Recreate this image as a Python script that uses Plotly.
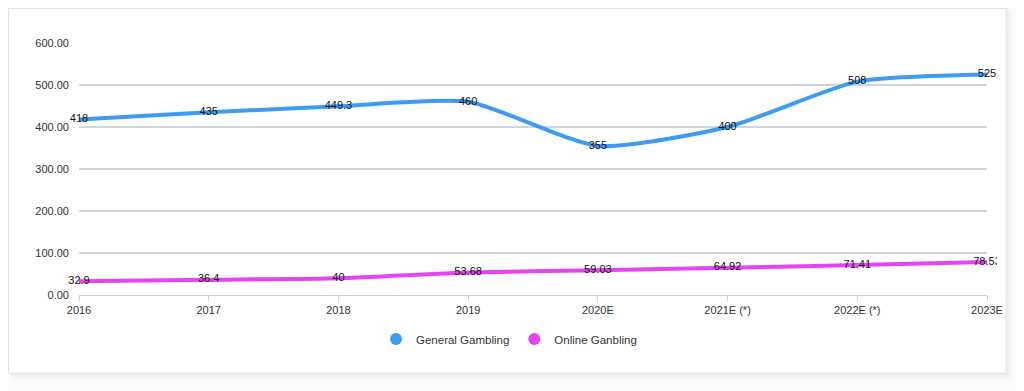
import plotly.graph_objects as go

categories = ["2016", "2017", "2018", "2019", "2020E", "2021E (*)", "2022E (*)", "2023E"]
general = [418, 435, 449.3, 460, 355, 400, 508, 525]
online = [32.9, 36.4, 40, 53.68, 59.03, 64.92, 71.41, 78.53]
y_ticks = [0, 100, 200, 300, 400, 500, 600]

BLUE = "#3c9bf4"
MAGENTA = "#e643f6"
FONT = "Liberation Sans, Arial, sans-serif"

OFF = 8  # page body margin: figure origin sits at page (8, 8)
W, H = 1024 - OFF, 391 - OFF
# plot area in page pixels
PL, PR, PT, PB = 79, 987, 43, 295
L, R, T, B = PL - OFF, PR - OFF, PT - OFF, PB - OFF


def px(x):
    return (x - PL) / (PR - PL)


def py(y):
    return (PB - y) / (PB - PT)


fig = go.Figure()

fig.add_trace(go.Scatter(
    x=categories, y=general, mode="lines+text", text=[f"{v:g}" for v in general],
    textposition="middle center", textfont=dict(size=11, color="#111", family=FONT),
    line=dict(color=BLUE, width=4, shape="spline", smoothing=0.6),
    showlegend=False, cliponaxis=False, hoverinfo="skip"))
fig.add_trace(go.Scatter(
    x=categories, y=online, mode="lines+text", text=[f"{v:g}" for v in online],
    textposition="middle center", textfont=dict(size=11, color="#111", family=FONT),
    line=dict(color=MAGENTA, width=4, shape="spline", smoothing=0.6),
    showlegend=False, cliponaxis=False, hoverinfo="skip"))

# legend entries with circle symbols
fig.add_trace(go.Scatter(x=[None], y=[None], mode="markers", name="General Gambling",
                         marker=dict(color=BLUE, size=12, symbol="circle")))
fig.add_trace(go.Scatter(x=[None], y=[None], mode="markers", name="Online Ganbling",
                         marker=dict(color=MAGENTA, size=12, symbol="circle")))

shapes = []
# card shadow
for i, c in enumerate(["#f6f6f6", "#f1f1f1", "#ececec"]):
    off = 6 - 2 * i
    shapes.append(dict(type="rect", xref="paper", yref="paper", layer="below",
                       x0=px(8 + off), x1=px(1006 + off), y0=py(5 + off), y1=py(373 + off),
                       line=dict(width=0), fillcolor=c))
# card
shapes.append(dict(type="rect", xref="paper", yref="paper", layer="below",
                   x0=px(8.5), x1=px(1006), y0=py(8.5), y1=py(373),
                   line=dict(width=1, color="#e3e3e3"), fillcolor="white"))
# clip mask on the right edge of the chart region
shapes.append(dict(type="rect", xref="paper", yref="paper", layer="above",
                   x0=px(997), x1=px(1005.5), y0=py(30), y1=py(300),
                   line=dict(width=0), fillcolor="white"))

fig.update_layout(
    width=W, height=H,
    margin=dict(l=L, r=W - R, t=T, b=H - B, pad=0),
    paper_bgcolor="#fbfbfb", plot_bgcolor="rgba(0,0,0,0)",
    font=dict(family=FONT, size=11, color="#333"),
    shapes=shapes,
    showlegend=True,
    legend=dict(orientation="h", x=px(509), xanchor="center", y=py(339), yanchor="middle",
                font=dict(size=11.5, color="#333", family=FONT), bgcolor="rgba(0,0,0,0)",
                itemwidth=30, traceorder="normal"),
    xaxis=dict(type="category", categoryorder="array", categoryarray=categories,
               range=[0, len(categories) - 1], showgrid=False, zeroline=False,
               showline=True, linecolor="#c9d1d6", linewidth=1,
               ticks="outside", ticklen=5, tickcolor="#c9d1d6",
               tickfont=dict(size=11, color="#333", family=FONT), fixedrange=True),
    yaxis=dict(range=[0, 600], tickvals=y_ticks, ticktext=[f"{v:.2f}" for v in y_ticks],
               showgrid=True, gridcolor="#cfd6db", gridwidth=1.5, zeroline=False,
               showline=False, ticks="", ticklabelstandoff=9,
               tickfont=dict(size=11, color="#333", family=FONT), fixedrange=True),
)

fig.write_html("out.html")
